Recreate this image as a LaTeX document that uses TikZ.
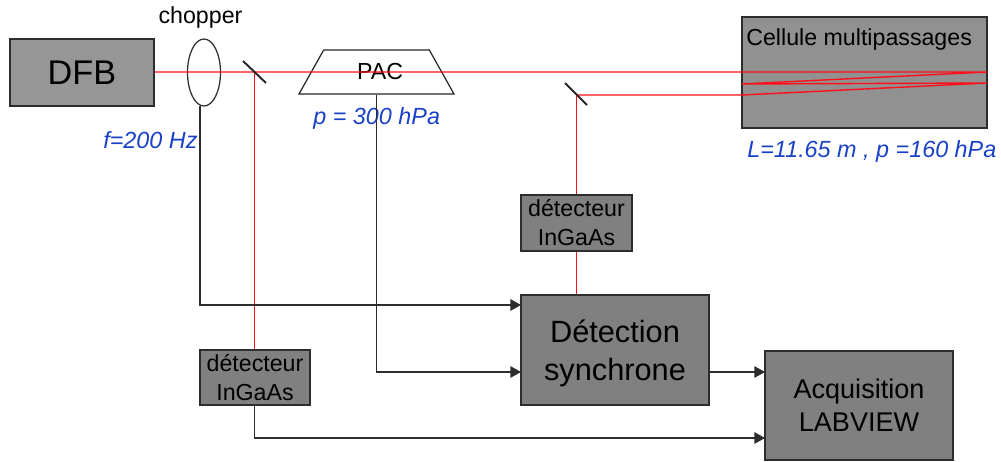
\documentclass[tikz,border=0pt]{standalone}
\usepackage{fontspec}
\setmainfont{Liberation Sans}
\usepackage{xcolor}
\usetikzlibrary{arrows.meta, shapes.geometric}
\definecolor{boxgray}{RGB}{128, 128, 128}
\definecolor{lightgray}{RGB}{150, 150, 150}
\definecolor{beamred}{RGB}{255, 15, 25}
\definecolor{notblue}{RGB}{25, 65, 200}
\definecolor{linegray}{RGB}{45, 45, 45}
\tikzset{
  px/.style={x=0.02cm, y=-0.02cm},
  devbox/.style={draw=linegray, line width=0.8pt, fill=boxgray, inner sep=0pt, align=center, text=black},
  beam/.style={beamred, line width=0.8pt},
  signal/.style={linegray, line width=0.7pt},
  sigarrow/.style={signal, -{Triangle[length=6pt, width=6.5pt]}},
  mirror/.style={black!85, line width=1.1pt},
  note/.style={text=notblue, font=\itshape\fontsize{13.3pt}{15pt}\selectfont, inner sep=0pt},
  smalltext/.style={font=\fontsize{13.2pt}{16.5pt}\selectfont}
}
\begin{document}
\begin{tikzpicture}[px]
  \useasboundingbox (0,0) rectangle (1001,462);

  % --- sources and cells ---
  \node[devbox, fill=lightgray, minimum width=144*0.02cm, minimum height=67*0.02cm,
    font=\fontsize{19.5pt}{22pt}\selectfont] (dfb) at (82,72.5) {DFB};
  \node[draw=linegray, line width=0.7pt, ellipse, inner sep=0pt,
    minimum width=33*0.02cm, minimum height=67*0.02cm] (chopper) at (204,72.5) {};
  \node[draw=black!85, line width=0.7pt, trapezium, trapezium angle=53, inner sep=0pt,
    trapezium stretches=true, minimum width=155*0.02cm, minimum height=44*0.02cm, smalltext] (pac) at (376.5,72) {\hspace{4pt}PAC};
  \node[devbox, fill=lightgray!97!black, minimum width=245*0.02cm, minimum height=111*0.02cm] (cell) at (864.5,72.5) {};

  % --- mirrors and beam turning points ---
  \coordinate (mirrorA) at (254.5,72);
  \coordinate (mirrorB) at (576.5,95);
  \coordinate (cellR1) at (987,72);
  \coordinate (cellL1) at (742,84);
  \coordinate (cellR2) at (987,83);
  \coordinate (cellL2) at (742,95);

  % --- laser path ---
  \draw[beam] (dfb.east |- cellR1) -- (cellR1) -- (cellL1) -- (cellR2) -- (cellL2) -- (mirrorB);

  % --- detectors and electronics ---
  \node[devbox, minimum width=111*0.02cm, minimum height=56*0.02cm, smalltext] (detB) at (576.5,223) {détecteur\\InGaAs};
  \node[devbox, minimum width=110*0.02cm, minimum height=55*0.02cm, smalltext] (detA) at (255,377.5) {détecteur\\InGaAs};
  \node[devbox, minimum width=188*0.02cm, minimum height=110*0.02cm,
    font=\fontsize{17.5pt}{21.5pt}\selectfont] (sync) at (615,350) {\rule{0pt}{17pt}Détection\hspace{4pt}\\synchrone};
  \node[devbox, minimum width=188*0.02cm, minimum height=109*0.02cm,
    font=\fontsize{15.4pt}{18.8pt}\selectfont] (acq) at (859,405.5) {Acquisition\hspace{4pt}\\LABVIEW};

  \draw[beam] (mirrorA) -- (detA.north -| mirrorA);
  \draw[beam] (mirrorB) -- (detB.north);
  \draw[beam] (detB.south) -- (sync.north -| detB.south);

  % --- mirror blades ---
  \draw[mirror] (243,61) -- (266,83);
  \draw[mirror] (565,83) -- (587,105);

  % --- labels ---
  \node[smalltext] (choplab) at (200.5,18) {chopper};
  \node[smalltext, anchor=west, inner sep=0pt] (celllab) at (746,39.5) {Cellule multipassages};
  \node[note, anchor=west] (flab) at (103,140) {f=200 Hz};
  \node[note, anchor=west] (plab) at (313,118.5) {p = 300 hPa};
  \node[note, anchor=west] (llab) at (747,151.5) {L=11.65 m , p =160 hPa};

  % --- signal lines ---
  \coordinate (chopout) at (200,106);
  \coordinate (syncin1) at (521,305);
  \coordinate (syncin2) at (521,372);
  \coordinate (syncout) at (709,372);
  \coordinate (acqin1) at (765,372);
  \coordinate (acqin2) at (765,438);
  \draw[sigarrow] (chopout) |- (syncin1);
  \draw[sigarrow] (pac.south) |- (syncin2);
  \draw[sigarrow] (syncout) -- (acqin1);
  \draw[sigarrow] (detA.south -| mirrorA) |- (acqin2);

\end{tikzpicture}
\end{document}
